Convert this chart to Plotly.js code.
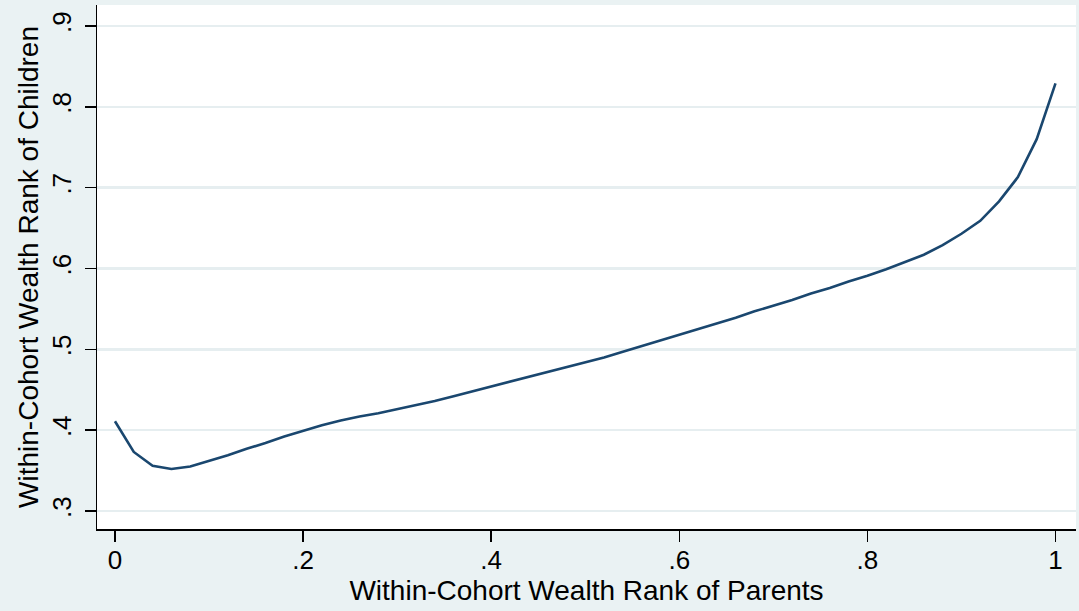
<!DOCTYPE html>
<html>
<head>
<meta charset="utf-8">
<script src="https://cdn.plot.ly/plotly-3.0.1.min.js"></script>
<style>
  html, body { margin: 0; padding: 0; background: #eaf2f3; }
  #chart { width: 1079px; height: 611px; }
</style>
</head>
<body>
<div id="chart"></div>
<script>
// Within-cohort wealth rank of parents (x) and mean rank of children (y)
const parentRank = [
  0.00, 0.02, 0.04, 0.06, 0.08, 0.10, 0.12, 0.14, 0.16, 0.18,
  0.20, 0.22, 0.24, 0.26, 0.28, 0.30, 0.32, 0.34, 0.36, 0.38,
  0.40, 0.42, 0.44, 0.46, 0.48, 0.50, 0.52, 0.54, 0.56, 0.58,
  0.60, 0.62, 0.64, 0.66, 0.68, 0.70, 0.72, 0.74, 0.76, 0.78,
  0.80, 0.82, 0.84, 0.86, 0.88, 0.90, 0.92, 0.94, 0.96, 0.98, 1.00
];
const childRank = [
  0.411, 0.373, 0.356, 0.352, 0.355, 0.362, 0.369, 0.377, 0.384, 0.392,
  0.399, 0.406, 0.412, 0.417, 0.421, 0.426, 0.431, 0.436, 0.442, 0.448,
  0.454, 0.460, 0.466, 0.472, 0.478, 0.484, 0.490, 0.497, 0.504, 0.511,
  0.518, 0.525, 0.532, 0.539, 0.547, 0.554, 0.561, 0.569, 0.576, 0.584,
  0.591, 0.599, 0.608, 0.617, 0.629, 0.643, 0.659, 0.683, 0.713, 0.760, 0.829
];
const xTickVals = [0, 0.2, 0.4, 0.6, 0.8, 1];
const xTickText = ['0', '.2', '.4', '.6', '.8', '1'];
const yTickVals = [0.3, 0.4, 0.5, 0.6, 0.7, 0.8, 0.9];
const yTickText = ['.3', '.4', '.5', '.6', '.7', '.8', '.9'];
const xTitle = 'Within-Cohort Wealth Rank of Parents';
const yTitle = 'Within-Cohort Wealth Rank of Children';

const FONT = '"Liberation Sans", Arial, sans-serif';

const trace = {
  x: parentRank,
  y: childRank,
  type: 'scatter',
  mode: 'lines',
  line: { color: '#1a476f', width: 2.6 },
  hoverinfo: 'skip'
};

const layout = {
  width: 1079,
  height: 611,
  paper_bgcolor: '#eaf2f3',
  plot_bgcolor: '#ffffff',
  margin: { l: 97, r: 3, t: 5, b: 82, pad: 0 },
  showlegend: false,
  font: { family: FONT, color: '#000000', size: 26 },
  xaxis: {
    range: [-0.0191, 1.0218],
    tickmode: 'array',
    tickvals: xTickVals,
    ticktext: xTickText,
    ticks: 'outside',
    ticklen: 11,
    tickwidth: 1.5,
    tickcolor: '#000000',
    showline: true,
    linecolor: '#000000',
    linewidth: 1.5,
    showgrid: false,
    zeroline: false,
    ticklabelstandoff: -4,
    tickfont: { family: FONT, size: 26, color: '#000000' },
    title: { text: xTitle, font: { family: FONT, size: 28, color: '#000000' }, standoff: 4 }
  },
  yaxis: {
    range: [0.2777, 0.926],
    tickmode: 'array',
    tickvals: yTickVals,
    ticktext: yTickText,
    tickangle: -90,
    ticks: 'outside',
    ticklen: 11,
    tickwidth: 1.5,
    tickcolor: '#000000',
    showline: true,
    linecolor: '#000000',
    linewidth: 1.5,
    showgrid: true,
    gridcolor: '#e6eef0',
    gridwidth: 2.5,
    zeroline: false,
    ticklabelstandoff: 3,
    tickfont: { family: FONT, size: 26, color: '#000000' },
    title: { text: yTitle, font: { family: FONT, size: 28, color: '#000000' }, standoff: 0 }
  }
};

Plotly.newPlot('chart', [trace], layout, { staticPlot: true, displayModeBar: false });
</script>
</body>
</html>
